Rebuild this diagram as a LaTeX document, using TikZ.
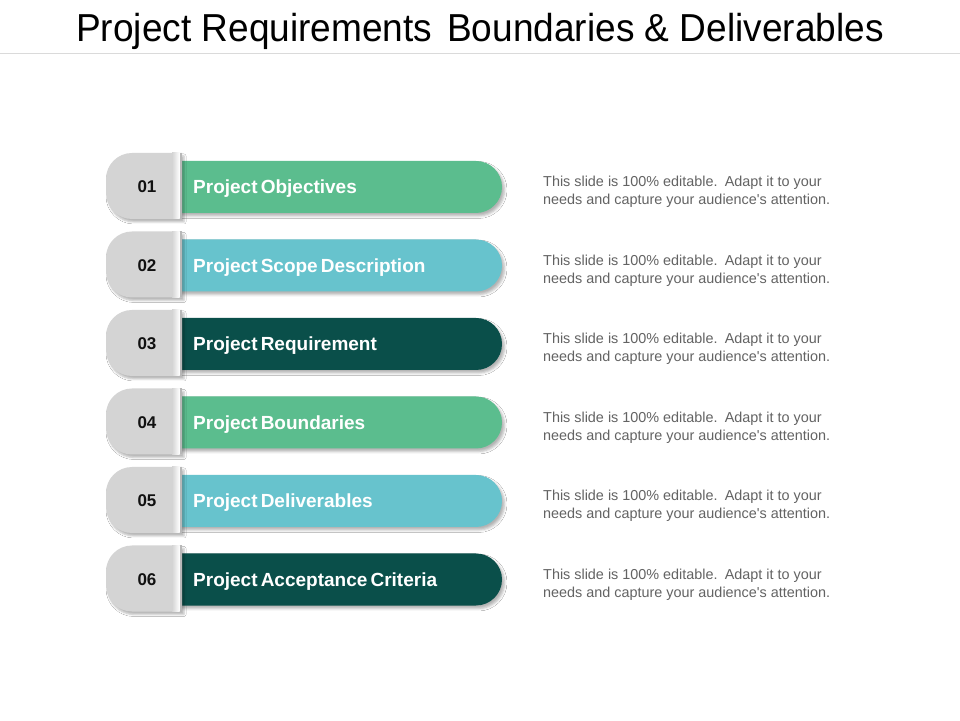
\documentclass[tikz,border=0pt]{standalone}
\usepackage{fontspec}
\setmainfont{Liberation Sans}
\newfontfamily\titlefont[FakeStretch=0.95]{Liberation Sans}
\newfontfamily\labelfont[WordSpace=0.6]{Liberation Sans}
\usetikzlibrary{shadows.blur}
\definecolor{cgreen}{HTML}{5BBD8E}
\definecolor{cteal}{HTML}{67C3CD}
\definecolor{cdark}{HTML}{0A4F4A}
\definecolor{tabgray}{HTML}{D4D4D4}
\definecolor{tabedge}{HTML}{B8B8B8}
\definecolor{desccol}{HTML}{636363}
\definecolor{numcol}{HTML}{111111}
\definecolor{sepline}{HTML}{DADADA}
\tikzset{
  barshadow/.style={blur shadow={shadow xshift=2.5pt, shadow yshift=-3pt, shadow blur radius=2.5pt, shadow opacity=30}},
  tabshadow/.style={blur shadow={shadow xshift=2pt, shadow yshift=-3pt, shadow blur radius=2pt, shadow opacity=28}},
  numtext/.style={font=\fontsize{17}{20}\selectfont\bfseries, text=numcol, inner sep=0pt},
  labeltext/.style={font=\labelfont\fontsize{19}{22}\selectfont\bfseries, text=white, inner sep=0pt, anchor=base west},
  desctext/.style={font=\fontsize{14.4}{18}\selectfont, text=desccol, inner sep=0pt, anchor=base west},
  titletext/.style={font=\titlefont\fontsize{39}{44}\selectfont, text=black, inner sep=0pt, anchor=base}
}
\begin{document}
\begin{tikzpicture}[x=1pt,y=1pt]
\useasboundingbox (0,0) rectangle (960,720);
\fill[white] (0,0) rectangle (960,720);
% title
\node[titletext] (title) at (480,678) {Project Requirements\hspace{0.38em}Boundaries \& Deliverables};
\draw[sepline, line width=1pt] (0,666) -- (960,666);
% rows
\foreach \i/\num/\lab/\col in {1/01/Project Objectives/cgreen, 2/02/Project Scope Description/cteal, 3/03/Project Requirement/cdark, 4/04/Project Boundaries/cgreen, 5/05/Project Deliverables/cteal, 6/06/Project Acceptance Criteria/cdark}{
  \pgfmathsetmacro{\Y}{720-187-78.5*(\i-1)}
  % bar
  \fill[\col, barshadow] (172,\Y+26) -- (476,\Y+26) arc[start angle=90, end angle=-90, radius=26] -- (172,\Y-26) -- cycle;
  % tab
  \fill[tabgray, tabshadow] (182,\Y+34) -- (132,\Y+34) arc[start angle=90, end angle=180, radius=26] -- (106,\Y-6) arc[start angle=180, end angle=270, radius=26] -- (182,\Y-32) -- cycle;
  \shade[left color=tabgray, right color=white] (172,\Y+34) rectangle (179.5,\Y-32);
  \fill[tabedge] (179.5,\Y+34) rectangle (181.5,\Y-32);
  % texts
  \node[numtext] (num\i) at (147,\Y) {\num};
  \node[labeltext] (lab\i) at (193,\Y-7) {\lab};
  \node[desctext] (descA\i) at (543,\Y) {This slide is 100\% editable.\hspace{0.5em}Adapt it to your};
  \node[desctext] (descB\i) at (543,\Y-18) {needs and capture your audience\textquotesingle s attention.};
}
\end{tikzpicture}
\end{document}
